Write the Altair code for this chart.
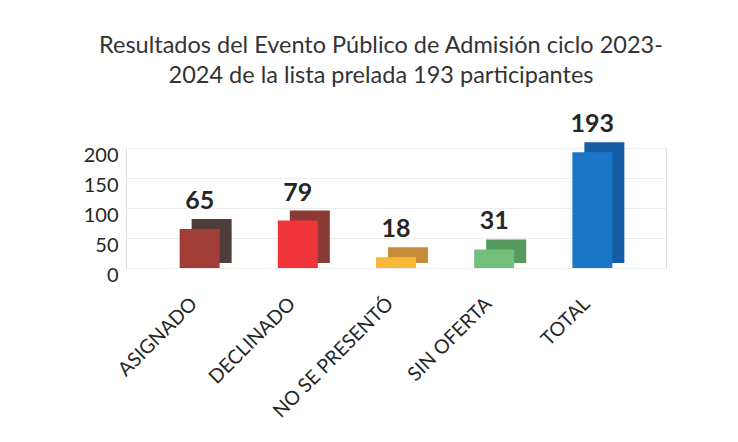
import altair as alt
import pandas as pd

categories = ["ASIGNADO", "DECLINADO", "NO SE PRESENTÓ", "SIN OFERTA", "TOTAL"]
values = [65, 79, 18, 31, 193]
front_colors = ["#a23e38", "#ef343a", "#f6b836", "#72c07c", "#1b76c8"]
side_colors = ["#4d3e3b", "#8c3a36", "#c48d36", "#579a60", "#155ea6"]
y_ticks = [0, 50, 100, 150, 200]

df = pd.DataFrame({"cat": categories, "val": values,
                   "front": front_colors, "side": side_colors})

FONT = "Lato"
TXT = "#262626"

x = alt.X("cat:N", sort=categories, title=None,
          scale=alt.Scale(paddingInner=0, paddingOuter=0.25),
          axis=alt.Axis(labelAngle=315, labelFontSize=19.5, labelFont=FONT,
                        labelColor=TXT, domain=False, ticks=False,
                        labelPadding=26, labelOffset=-12, grid=False))
y = alt.Y("val:Q", title=None,
          scale=alt.Scale(domain=[0, 200], nice=False),
          axis=alt.Axis(values=y_ticks, labelFontSize=20, labelFont=FONT,
                        labelColor=TXT, domain=False, ticks=False,
                        labelPadding=8, labelOffset=7,
                        gridColor="#ededed", gridWidth=1))

base = alt.Chart(df)

side = base.mark_bar(xOffset=12, yOffset=-10, y2Offset=-5, size=40).encode(
    x=x, y=y, y2=alt.datum(0), color=alt.Color("side:N", scale=None))
front = base.mark_bar(size=40).encode(
    x=x, y=y, color=alt.Color("front:N", scale=None))
labels = base.mark_text(fontSize=25, fontWeight="bold", font=FONT,
                        color=TXT, dy=-28, baseline="middle").encode(
    x=x, y=y, text="val:Q")

chart = alt.layer(side, front, labels).properties(
    width=540, height=120,
    autosize=alt.AutoSizeParams(type="none"),
    padding={"left": 118, "top": 140, "right": 64, "bottom": 166},
    title=alt.TitleParams(
        ["Resultados del Evento Público de Admisión ciclo 2023-",
         "2024 de la lista prelada 193 participantes"],
        font=FONT, fontSize=23.5, fontWeight="normal", color="#333333",
        lineHeight=30, offset=25, dx=-15, anchor="middle"),
).configure_view(stroke=None).configure(background="white")

chart.save("out.html", embed_options={"renderer": "svg", "actions": False})
